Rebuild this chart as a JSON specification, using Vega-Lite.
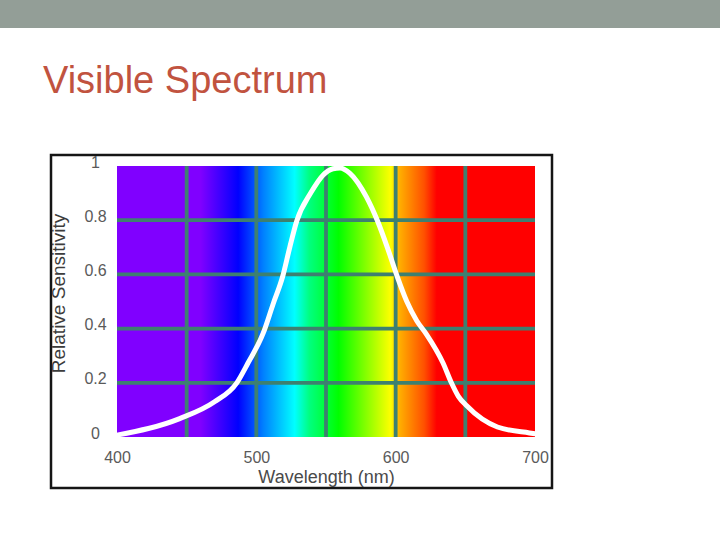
{
  "$schema": "https://vega.github.io/schema/vega-lite/v6.json",
  "description": "Relative sensitivity of the eye across the visible spectrum",
  "width": 501,
  "height": 333,
  "autosize": {"type": "none"},
  "padding": {"left": 51, "top": 155, "right": 168, "bottom": 52},
  "background": "white",
  "view": {"stroke": "#151515", "strokeWidth": 2.5, "fill": "white"},
  "config": {
    "font": "Liberation Sans",
    "axis": {"grid": false, "ticks": false, "domain": false}
  },
  "title": {
    "text": "Visible Spectrum",
    "anchor": "start",
    "frame": "group",
    "dx": -8,
    "offset": -131,
    "baseline": "alphabetic",
    "font": "Liberation Sans",
    "fontSize": 38,
    "fontWeight": "normal",
    "color": "#c1533f"
  },
  "datasets": {
    "header": [{"from": 316, "to": 833, "lo": 1.509, "hi": 1.613}],
    "band": [{"from": 400, "to": 700, "lo": 0, "hi": 1}],
    "vgrid": [{"wl": 450}, {"wl": 500}, {"wl": 550}, {"wl": 600}, {"wl": 650}],
    "hgrid": [{"s": 0.2}, {"s": 0.4}, {"s": 0.6}, {"s": 0.8}],
    "curve": [
      {"wl": 400, "s": 0.007},
      {"wl": 445, "s": 0.068},
      {"wl": 470, "s": 0.13},
      {"wl": 486, "s": 0.2},
      {"wl": 494, "s": 0.273},
      {"wl": 505, "s": 0.384},
      {"wl": 512, "s": 0.49},
      {"wl": 519, "s": 0.594},
      {"wl": 524, "s": 0.7},
      {"wl": 529, "s": 0.797},
      {"wl": 539, "s": 0.9},
      {"wl": 548, "s": 0.967},
      {"wl": 555, "s": 0.99},
      {"wl": 560, "s": 0.993},
      {"wl": 567, "s": 0.974},
      {"wl": 579, "s": 0.886},
      {"wl": 587, "s": 0.797},
      {"wl": 594, "s": 0.7},
      {"wl": 601, "s": 0.594},
      {"wl": 608, "s": 0.5},
      {"wl": 615, "s": 0.43},
      {"wl": 622, "s": 0.38},
      {"wl": 634, "s": 0.273},
      {"wl": 640, "s": 0.2},
      {"wl": 645, "s": 0.15},
      {"wl": 651, "s": 0.115},
      {"wl": 673, "s": 0.037},
      {"wl": 696, "s": 0.015},
      {"wl": 700, "s": 0.012}
    ]
  },
  "layer": [
    {
      "data": {"name": "header"},
      "mark": {"type": "rect", "color": "#939e97"},
      "encoding": {
        "x": {"field": "from", "type": "quantitative"},
        "x2": {"field": "to"},
        "y": {"field": "lo", "type": "quantitative"},
        "y2": {"field": "hi"}
      }
    },
    {
      "data": {"name": "band"},
      "mark": {
        "type": "rect",
        "color": {
          "gradient": "linear",
          "x1": 0, "y1": 0, "x2": 1, "y2": 0,
          "stops": [
            {"offset": 0, "color": "#8000ff"},
            {"offset": 0.2, "color": "#8000ff"},
            {"offset": 0.29, "color": "#0000ff"},
            {"offset": 0.35, "color": "#0080ff"},
            {"offset": 0.425, "color": "#00ffff"},
            {"offset": 0.46, "color": "#00ff80"},
            {"offset": 0.53, "color": "#00ff00"},
            {"offset": 0.655, "color": "#ffff00"},
            {"offset": 0.675, "color": "#ffb000"},
            {"offset": 0.735, "color": "#ff5000"},
            {"offset": 0.765, "color": "#ff0000"},
            {"offset": 1, "color": "#ff0000"}
          ]
        }
      },
      "encoding": {
        "x": {
          "field": "from",
          "type": "quantitative",
          "scale": {"domain": [400, 700], "range": [66, 484], "nice": false, "zero": false},
          "axis": {
            "values": [400, 500, 600, 700],
            "offset": -51,
            "labelPadding": 12,
            "labelFlush": false,
            "labelOverlap": false,
            "labelFont": "Liberation Sans",
            "labelFontSize": 16,
            "labelColor": "#5a5a5a",
            "title": "Wavelength (nm)",
            "titleFont": "Liberation Sans",
            "titleFontSize": 18,
            "titleFontWeight": "normal",
            "titleColor": "#4a4a4a",
            "titlePadding": 3
          }
        },
        "x2": {"field": "to"},
        "y": {
          "field": "lo",
          "type": "quantitative",
          "scale": {"domain": [0, 1], "range": [282, 11], "nice": false, "zero": false},
          "axis": {
            "values": [0, 0.2, 0.4, 0.6, 0.8, 1],
            "format": "~g",
            "offset": -66,
            "labelAlign": "center",
            "labelPadding": 22,
            "labelOffset": -4,
            "labelOverlap": false,
            "labelFont": "Liberation Sans",
            "labelFontSize": 16,
            "labelColor": "#5a5a5a",
            "title": "Relative Sensitivity",
            "titleFont": "Liberation Sans",
            "titleFontSize": 19,
            "titleFontWeight": "normal",
            "titleColor": "#3c3c3c",
            "titleAngle": 270,
            "titleAlign": "center",
            "titleBaseline": "middle",
            "titleX": -59,
            "titleY": 138
          }
        },
        "y2": {"field": "hi"}
      }
    },
    {
      "data": {"name": "vgrid"},
      "mark": {"type": "rule", "color": "#3e8070", "strokeWidth": 3.8},
      "encoding": {
        "x": {"field": "wl", "type": "quantitative"},
        "y": {"datum": 0, "type": "quantitative"},
        "y2": {"datum": 1}
      }
    },
    {
      "data": {"name": "hgrid"},
      "mark": {"type": "rule", "color": "#3e8070", "strokeWidth": 3.8},
      "encoding": {
        "y": {"field": "s", "type": "quantitative"},
        "x": {"datum": 400, "type": "quantitative"},
        "x2": {"datum": 700}
      }
    },
    {
      "data": {"name": "curve"},
      "mark": {"type": "line", "color": "white", "strokeWidth": 5, "interpolate": "monotone", "strokeCap": "round", "strokeJoin": "round"},
      "encoding": {
        "x": {"field": "wl", "type": "quantitative"},
        "y": {"field": "s", "type": "quantitative"}
      }
    }
  ]
}
